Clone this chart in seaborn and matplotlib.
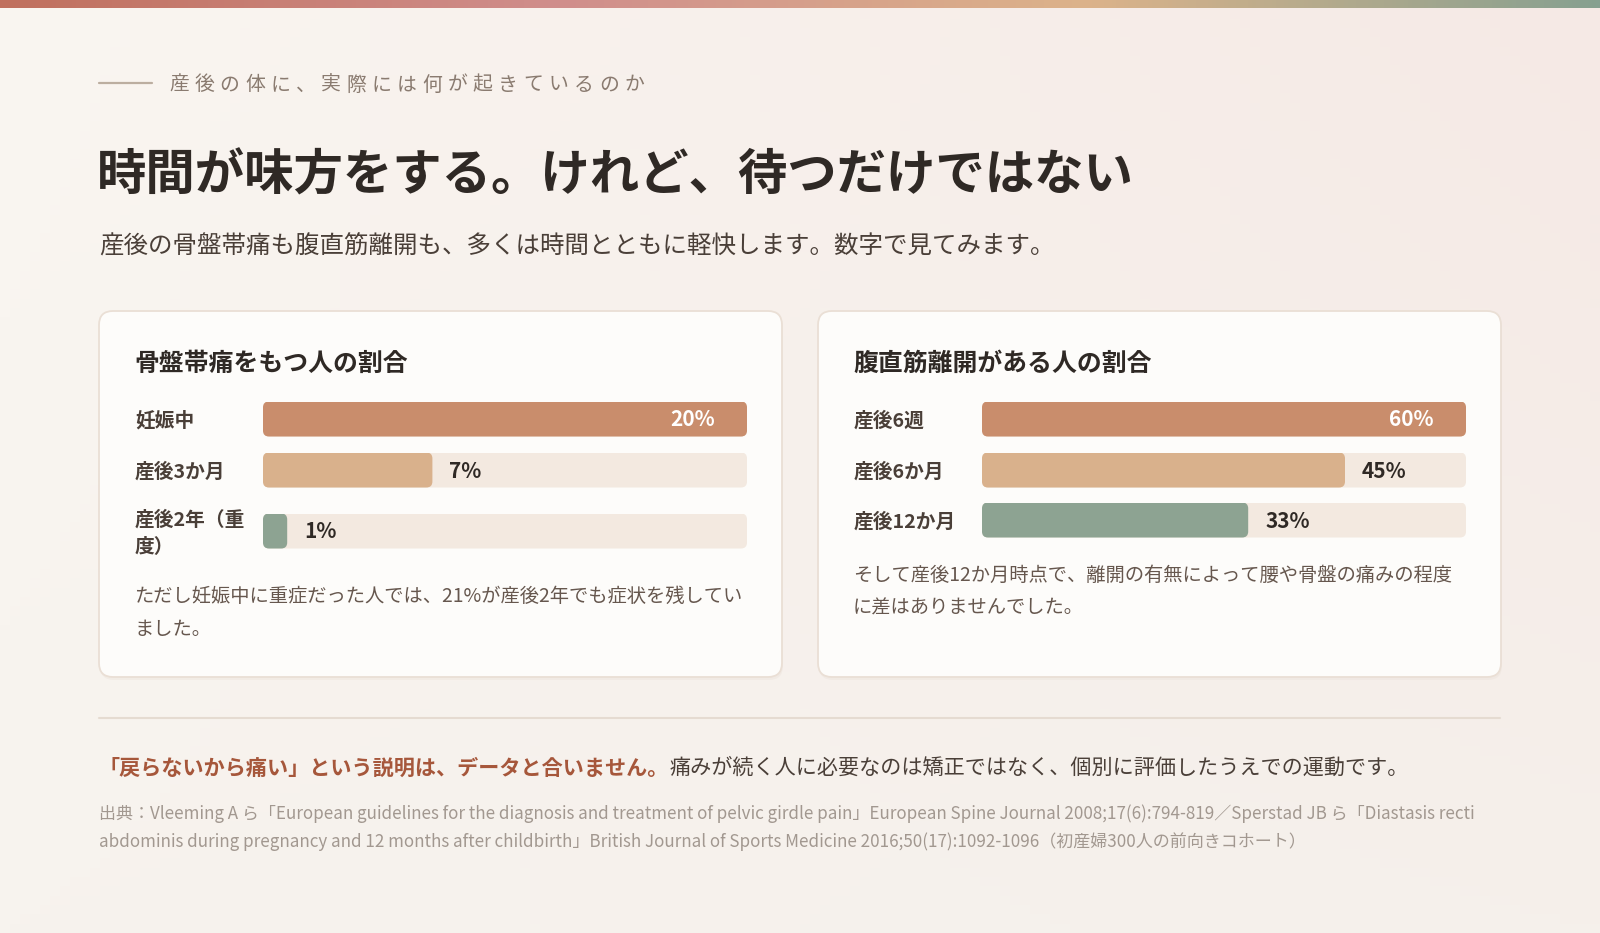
import numpy as np
import matplotlib
matplotlib.use("Agg")
import matplotlib.pyplot as plt
import seaborn as sns
from matplotlib.patches import FancyBboxPatch
from matplotlib.transforms import offset_copy

sns.set_theme(style="white")
plt.rcParams['font.family'] = ['Noto Sans CJK JP', 'DejaVu Sans']

# ---- data ----
kicker = "産後の体に、実際には何が起きているのか"
title = "時間が味方をする。けれど、待つだけではない"
subtitle = "産後の骨盤帯痛も腹直筋離開も、多くは時間とともに軽快します。数字で見てみます。"

pgp_title = "骨盤帯痛をもつ人の割合"
pgp_labels = ["妊娠中", "産後3か月", "産後2年（重\n度）"]
pgp_values = [20, 7, 1]
pgp_note = ["ただし妊娠中に重症だった人では、21%が産後2年でも症状を残してい", "ました。"]

dra_title = "腹直筋離開がある人の割合"
dra_labels = ["産後6週", "産後6か月", "産後12か月"]
dra_values = [60, 45, 33]
dra_note = ["そして産後12か月時点で、離開の有無によって腰や骨盤の痛みの程度", "に差はありませんでした。"]

statement_bold = "「戻らないから痛い」という説明は、データと合いません。"
statement_rest = "痛みが続く人に必要なのは矯正ではなく、個別に評価したうえでの運動です。"
source_lines = [
    "出典：Vleeming A ら「European guidelines for the diagnosis and treatment of pelvic girdle pain」European Spine Journal 2008;17(6):794-819／Sperstad JB ら「Diastasis recti",
    "abdominis during pregnancy and 12 months after childbirth」British Journal of Sports Medicine 2016;50(17):1092-1096（初産婦300人の前向きコホート）",
]

# ---- style ----
W, H = 1600, 933
BAR_COLORS = ["#c98d6c", "#d9b18c", "#8da392"]
TRACK = "#f3e9e0"
DARK = "#2f2925"
TEXT = "#4a3f38"
MUTED = "#66574e"
RUST = "#a6573b"
BAR_H = 35

fig = plt.figure(figsize=(16, 9.33), dpi=100)
bg = fig.add_axes([0, 0, 1, 1])

# background wash
tl, tr = np.array([250, 246, 241]), np.array([245, 233, 229])
bl, br = np.array([247, 243, 238]), np.array([245, 240, 235])
u = np.linspace(0, 1, 160)[None, :, None]
v = np.linspace(0, 1, 100)[:, None, None]
wash = (tl * (1 - u) * (1 - v) + tr * u * (1 - v) + bl * (1 - u) * v + br * u * v) / 255
bg.imshow(wash, extent=(0, W, H, 0), aspect='auto', zorder=0)

# top accent stripe
stops = np.array([[192, 112, 94], [208, 142, 140], [220, 179, 138], [134, 160, 144]]) / 255
pos = np.array([0, 0.35, 0.68, 1.0])
xs = np.linspace(0, 1, 400)
stripe = np.stack([np.interp(xs, pos, stops[:, c]) for c in range(3)], axis=-1)[None, :, :]
bg.imshow(stripe, extent=(0, W, 8, 0), aspect='auto', zorder=1)

bg.set_xlim(0, W)
bg.set_ylim(H, 0)
bg.axis('off')

# header
bg.plot([99, 152], [83, 83], color="#bcaea0", lw=1.6, zorder=2)
for i, ch in enumerate(kicker):
    bg.text(169 + i * 25.3, 85, ch, fontsize=14.3, color="#8a7b70", va='center', ha='left')
bg.text(97, 176, title, fontsize=35.6, weight='bold', color=DARK, va='center', ha='left')
bg.text(99, 247, subtitle, fontsize=17.65, color=TEXT, va='center', ha='left')

# cards
for cx in (99, 818):
    bg.add_patch(FancyBboxPatch((cx + 1, 314), 683, 366, boxstyle="round,pad=0,rounding_size=14",
                                fc="#e9dfd6", ec='none', alpha=0.35, zorder=2))
    bg.add_patch(FancyBboxPatch((cx, 311), 683, 366, boxstyle="round,pad=0,rounding_size=14",
                                fc="#fdfcfa", ec="#eadfd5", lw=1.3, zorder=3))


def bar_row(x0, yc, w, label, value, vmax, color):
    ax = fig.add_axes([x0 / W, 1 - (yc + BAR_H / 2) / H, w / W, BAR_H / H])
    sns.barplot(x=[vmax], y=[label], orient='h', color=TRACK, width=1, saturation=1, ax=ax)
    sns.barplot(x=[value], y=[label], orient='h', color=color, width=1, saturation=1, ax=ax)
    ax.set_xlim(0, vmax)
    ax.set_ylim(0.5, -0.5)
    ax.axis('off')
    # round the corners of the seaborn bars
    rx = 6 * vmax / w
    ry = 6 / BAR_H
    for p in list(ax.patches):
        fb = FancyBboxPatch((p.get_x(), p.get_y()), p.get_width(), p.get_height(),
                            boxstyle=f"round,pad=0,rounding_size={rx}", mutation_aspect=ry / rx,
                            fc=p.get_facecolor(), ec='none')
        p.set_visible(False)
        ax.add_patch(fb)
    if value >= vmax:
        tr_ = offset_copy(ax.transData, fig=fig, x=-32, y=-1, units='dots')
        ax.text(value, 0, f"{value}%", transform=tr_, ha='right', va='center',
                fontsize=15, weight='bold', color='white')
    else:
        tr_ = offset_copy(ax.transData, fig=fig, x=17, y=-1, units='dots')
        ax.text(value, 0, f"{value}%", transform=tr_, ha='left', va='center',
                fontsize=15, weight='bold', color=DARK)
    bg.text(x0 - 128, yc + 2, label, fontsize=14.2, weight='bold', color=TEXT, va='center', ha='left',
            linespacing=1.45, zorder=4)


def card(cx, bar_x0, heading, labels, values, rows_y, note, note_y):
    bg.text(cx + 35, 364, heading, fontsize=17.9, weight='bold', color=DARK, va='center', ha='left', zorder=4)
    vmax = max(values)
    for lab, val, yc, col in zip(labels, values, rows_y, BAR_COLORS):
        bar_row(bar_x0, yc, 484, lab, val, vmax, col)
    for i, line in enumerate(note):
        bg.text(cx + 35, note_y + i * 33, line, fontsize=13.9, color=MUTED, va='center', ha='left', zorder=4)


card(99, 263, pgp_title, pgp_labels, pgp_values, [419, 470, 531], pgp_note, 596)
card(818, 982, dra_title, dra_labels, dra_values, [419, 470, 520], dra_note, 575)

# divider and conclusion
bg.plot([99, 1500], [718, 718], color="#e5dbd1", lw=1.5, zorder=2)
t1 = bg.text(99, 768, statement_bold, fontsize=15.2, weight='bold', color=RUST, va='center', ha='left')
fig.canvas.draw()
bb = t1.get_window_extent()
x_end = bg.transData.inverted().transform((bb.x1, bb.y0))[0]
bg.text(x_end, 768, statement_rest, fontsize=15.2, color=TEXT, va='center', ha='left')

for i, line in enumerate(source_lines):
    bg.text(99, 814 + i * 28, line, fontsize=12.25, color="#a29890", va='center', ha='left')

plt.savefig("out.png", dpi=100)
plt.close()
